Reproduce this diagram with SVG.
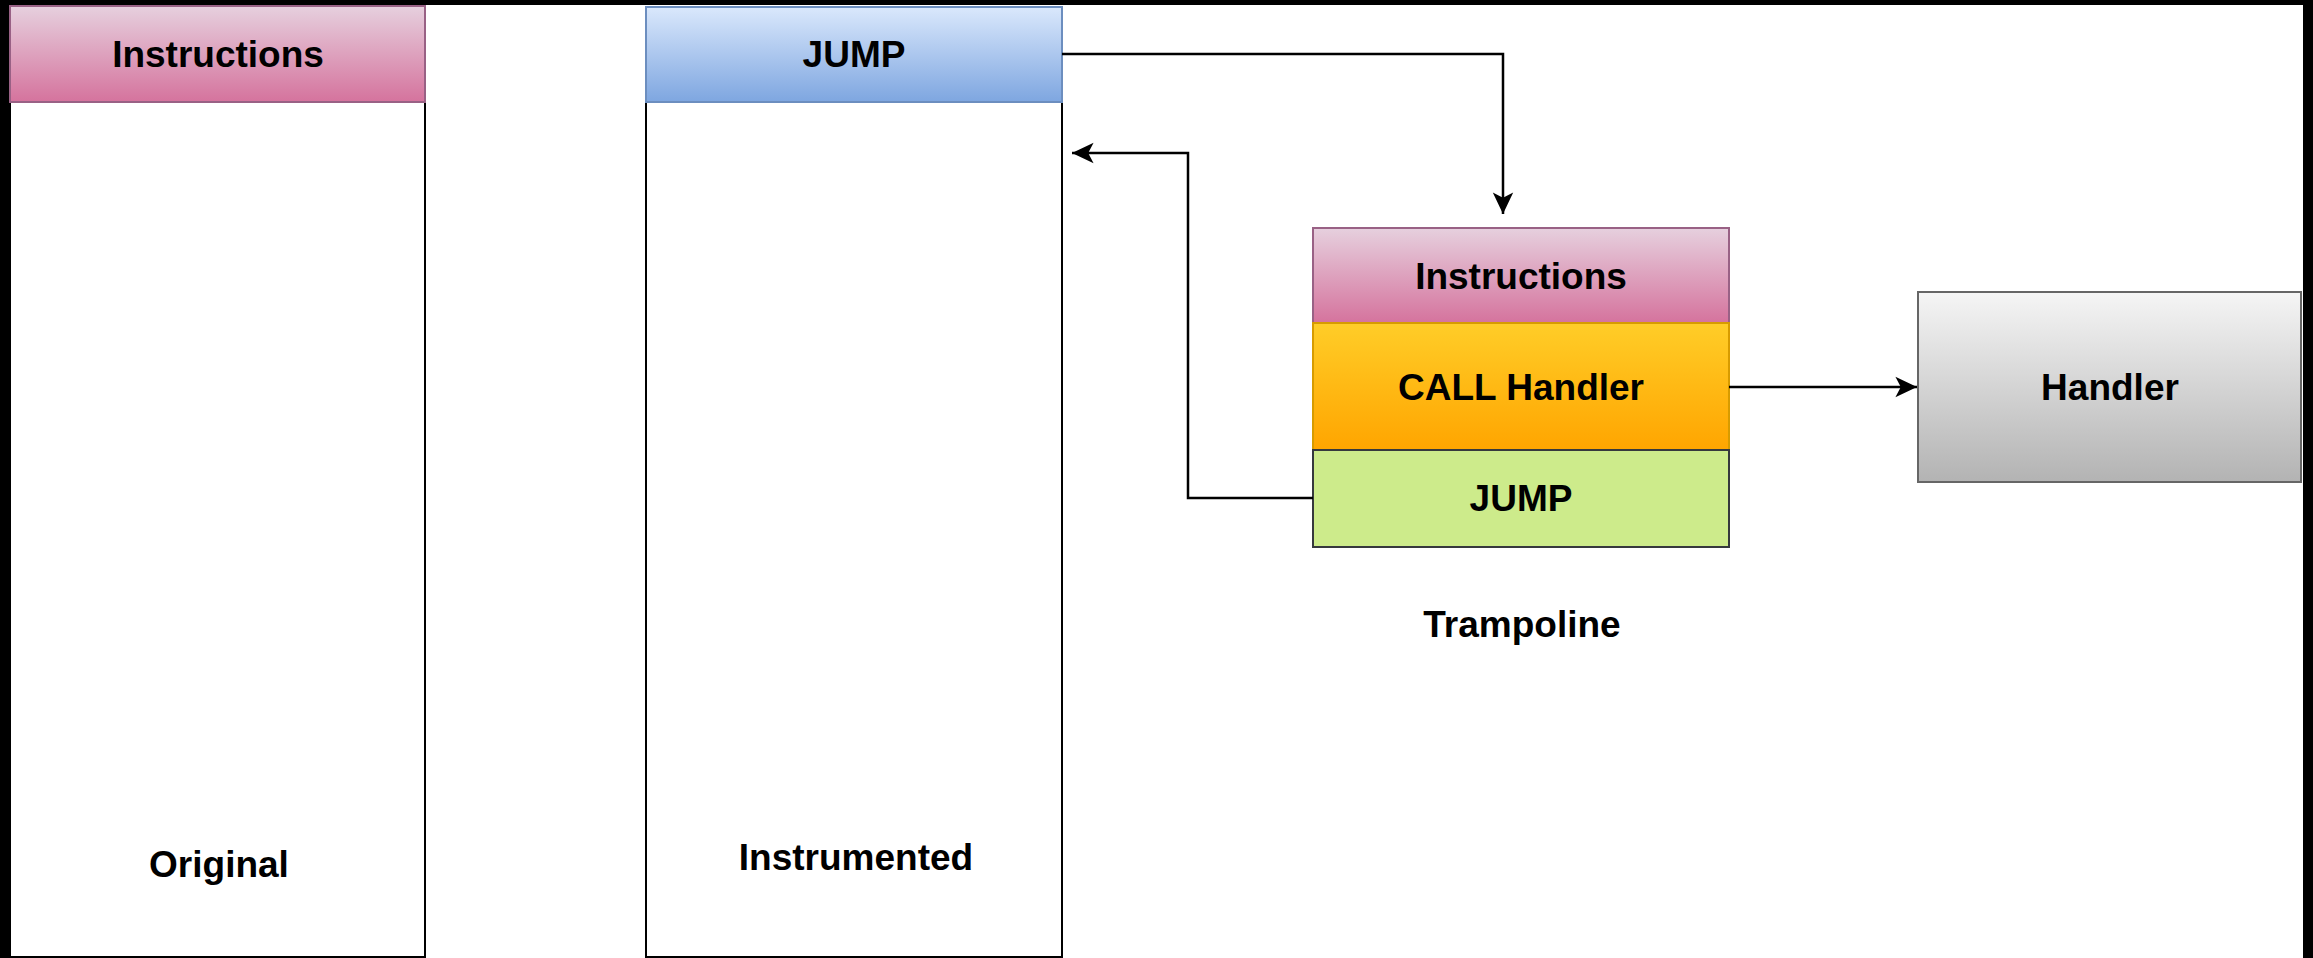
<svg xmlns="http://www.w3.org/2000/svg" width="2313" height="958" viewBox="0 0 2313 958">
  <defs>
    <linearGradient id="gPink" x1="0" y1="0" x2="0" y2="1">
      <stop offset="0" stop-color="#e6d0de"/>
      <stop offset="1" stop-color="#d5739d"/>
    </linearGradient>
    <linearGradient id="gBlue" x1="0" y1="0" x2="0" y2="1">
      <stop offset="0" stop-color="#dae8fc"/>
      <stop offset="1" stop-color="#7ea6e0"/>
    </linearGradient>
    <linearGradient id="gOrange" x1="0" y1="0" x2="0" y2="1">
      <stop offset="0" stop-color="#ffcd28"/>
      <stop offset="1" stop-color="#ffa500"/>
    </linearGradient>
    <linearGradient id="gGray" x1="0" y1="0" x2="0" y2="1">
      <stop offset="0" stop-color="#f5f5f5"/>
      <stop offset="1" stop-color="#b3b3b3"/>
    </linearGradient>
    <marker id="arrow" markerUnits="userSpaceOnUse" markerWidth="24" markerHeight="24" viewBox="0 0 20 20" refX="19" refY="10" orient="auto">
      <path d="M1,1.5 L19,10 L1,18.5 L5.5,10 Z" fill="#000"/>
    </marker>
  </defs>
  <style>
    .lbl { font-family: "Liberation Sans", Arial, sans-serif; font-weight: bold; font-size: 37px; fill: #000; text-anchor: middle; dominant-baseline: central; }
    .body { fill: #fff; stroke: #000; stroke-width: 2; }
    .pink { fill: url(#gPink); stroke: #996185; stroke-width: 2; }
    .blue { fill: url(#gBlue); stroke: #6c8ebf; stroke-width: 2; }
    .orange { fill: url(#gOrange); stroke: #d79b00; stroke-width: 2; }
    .green { fill: #cdeb8b; stroke: #36393d; stroke-width: 2; }
    .gray { fill: url(#gGray); stroke: #666; stroke-width: 2; }
    .edge { fill: none; stroke: #000; stroke-width: 2.5; marker-end: url(#arrow); }
  </style>

  <!-- canvas with dark frame on top, left and right -->
  <rect x="0" y="0" width="2313" height="958" fill="#fff"/>
  <rect x="0" y="0" width="2313" height="5" fill="#000"/>
  <rect x="0" y="0" width="10" height="958" fill="#000"/>
  <rect x="2303" y="0" width="10" height="958" fill="#000"/>

  <!-- original code block -->
  <g id="original">
    <rect class="body" x="10" y="6" width="415" height="951"/>
    <rect class="pink" x="10" y="6" width="415" height="96"/>
    <text class="lbl" x="218" y="54">Instructions</text>
    <text class="lbl" x="219" y="864">Original</text>
  </g>

  <!-- instrumented code block -->
  <g id="instrumented">
    <rect class="body" x="646" y="7" width="416" height="950"/>
    <rect class="blue" x="646" y="7" width="416" height="95"/>
    <text class="lbl" x="854" y="54">JUMP</text>
    <text class="lbl" x="856" y="857">Instrumented</text>
  </g>

  <!-- trampoline stack -->
  <g id="trampoline">
    <rect class="pink" x="1313" y="228" width="416" height="95"/>
    <text class="lbl" x="1521" y="276">Instructions</text>
    <rect class="orange" x="1313" y="323" width="416" height="127"/>
    <text class="lbl" x="1521" y="387">CALL Handler</text>
    <rect class="green" x="1313" y="450" width="416" height="97"/>
    <text class="lbl" x="1521" y="498">JUMP</text>
    <text class="lbl" x="1522" y="624">Trampoline</text>
  </g>

  <!-- handler routine -->
  <g id="handler">
    <rect class="gray" x="1918" y="292" width="383" height="190"/>
    <text class="lbl" x="2110" y="387">Handler</text>
  </g>

  <!-- control flow -->
  <g id="connectors">
    <path class="edge" d="M1062,54 L1503,54 L1503,214"/>
    <path class="edge" d="M1313,498 L1188,498 L1188,153 L1072,153"/>
    <path class="edge" d="M1729,387 L1917,387"/>
  </g>
</svg>
